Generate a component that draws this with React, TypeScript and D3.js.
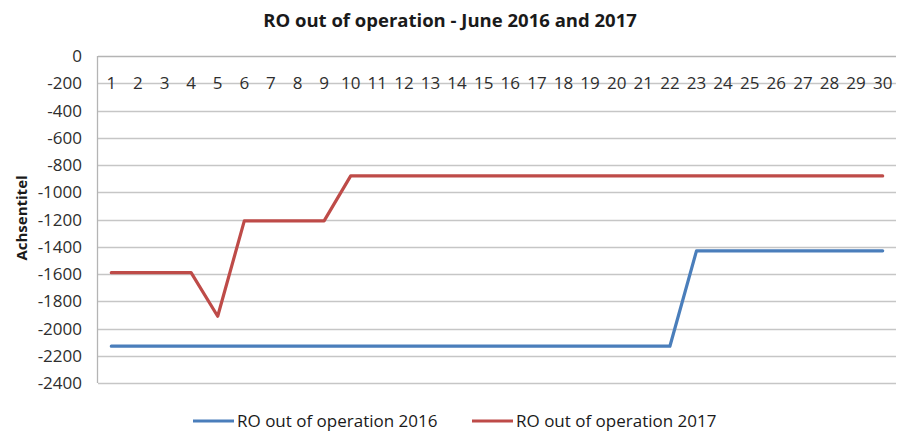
import * as d3 from "d3";
import React, { useRef, useEffect } from "react";

const width = 915;
const height = 433;

const margin = { top: 56, right: 19, bottom: 50, left: 98 };

const days = d3.range(1, 31).map(String);
const yTicks = [0, -200, -400, -600, -800, -1000, -1200, -1400, -1600, -1800, -2000, -2200, -2400];

const seriesNames = ["RO out of operation 2016", "RO out of operation 2017"];
const seriesColors = ["#4a7ebb", "#be4b48"];

// values, day 1..30
const values2016 = [
  -2130, -2130, -2130, -2130, -2130, -2130, -2130, -2130, -2130, -2130,
  -2130, -2130, -2130, -2130, -2130, -2130, -2130, -2130, -2130, -2130,
  -2130, -2130, -1430, -1430, -1430, -1430, -1430, -1430, -1430, -1430,
];
const values2017 = [
  -1590, -1590, -1590, -1590, -1910, -1210, -1210, -1210, -1210, -880,
  -880, -880, -880, -880, -880, -880, -880, -880, -880, -880,
  -880, -880, -880, -880, -880, -880, -880, -880, -880, -880,
];

const font = "'Open Sans', 'DejaVu Sans', sans-serif";

const App = () => {
  const ref = useRef<SVGSVGElement>(null);

  useEffect(() => {
    const svg = d3.select(ref.current);
    svg.selectAll("*").remove();

    const x = d3
      .scaleBand<string>()
      .domain(days)
      .range([margin.left, width - margin.right]);
    const y = d3
      .scaleLinear()
      .domain([-2400, 0])
      .range([height - margin.bottom, margin.top]);

    svg.append("rect").attr("width", width).attr("height", height).attr("fill", "#fff");

    // title
    svg
      .append("text")
      .attr("x", 450)
      .attr("y", 27)
      .attr("text-anchor", "middle")
      .attr("font-family", font)
      .attr("font-weight", "bold")
      .attr("font-size", 18.5)
      .attr("fill", "#1a1a1a")
      .text("RO out of operation - June 2016 and 2017");

    // gridlines
    svg
      .append("g")
      .selectAll("line")
      .data(yTicks)
      .join("line")
      .attr("x1", margin.left)
      .attr("x2", width - margin.right)
      .attr("y1", (d) => Math.round(y(d)) + 0.5)
      .attr("y2", (d) => Math.round(y(d)) + 0.5)
      .attr("stroke", (d) => (d === 0 ? "#b4b4b4" : "#c6c6c6"))
      .attr("stroke-width", 1.3);

    // y axis line
    svg
      .append("line")
      .attr("x1", margin.left - 0.5)
      .attr("x2", margin.left - 0.5)
      .attr("y1", y(0))
      .attr("y2", y(-2400))
      .attr("stroke", "#b4b4b4")
      .attr("stroke-width", 1.3);

    // y tick labels
    svg
      .append("g")
      .selectAll("text")
      .data(yTicks)
      .join("text")
      .attr("x", 82)
      .attr("y", (d) => y(d))
      .attr("dy", "0.36em")
      .attr("text-anchor", "end")
      .attr("font-family", font)
      .attr("font-size", 17)
      .attr("fill", "#2e2e2e")
      .text((d) => String(d));

    // x tick labels (sit on the -200 gridline, as in the source)
    svg
      .append("g")
      .selectAll("text")
      .data(days)
      .join("text")
      .attr("x", (d) => (x(d) ?? 0) + x.bandwidth() / 2)
      .attr("y", y(-200))
      .attr("dy", "0.36em")
      .attr("text-anchor", "middle")
      .attr("font-family", font)
      .attr("font-size", 17)
      .attr("fill", "#2e2e2e")
      .text((d) => d);

    // y axis title
    svg
      .append("text")
      .attr("transform", `translate(27, 218) rotate(-90)`)
      .attr("text-anchor", "middle")
      .attr("font-family", font)
      .attr("font-weight", "bold")
      .attr("font-size", 15)
      .attr("fill", "#1a1a1a")
      .text("Achsentitel");

    // lines
    const line = d3
      .line<number>()
      .x((_, i) => (x(days[i]) ?? 0) + x.bandwidth() / 2)
      .y((d) => y(d));

    [values2016, values2017].forEach((vals, i) => {
      svg
        .append("path")
        .datum(vals)
        .attr("d", line)
        .attr("fill", "none")
        .attr("stroke", seriesColors[i])
        .attr("stroke-width", 3.2)
        .attr("stroke-linejoin", "round")
        .attr("stroke-linecap", "round");
    });

    // legend
    const legendX = [193, 472];
    const legend = svg
      .append("g")
      .selectAll("g")
      .data(seriesNames)
      .join("g")
      .attr("transform", (_, i) => `translate(${legendX[i]}, 421)`);

    legend
      .append("line")
      .attr("x1", 0)
      .attr("x2", 41)
      .attr("stroke", (_, i) => seriesColors[i])
      .attr("stroke-width", 3.2);

    legend
      .append("text")
      .attr("x", 44)
      .attr("dy", "0.36em")
      .attr("font-family", font)
      .attr("font-size", 17)
      .attr("fill", "#1a1a1a")
      .text((d) => d);
  }, []);

  return (
    <div style={{ position: "absolute", left: 0, top: 0 }}>
      <svg ref={ref} width={width} height={height} style={{ display: "block" }}></svg>
    </div>
  );
};

export default App;
